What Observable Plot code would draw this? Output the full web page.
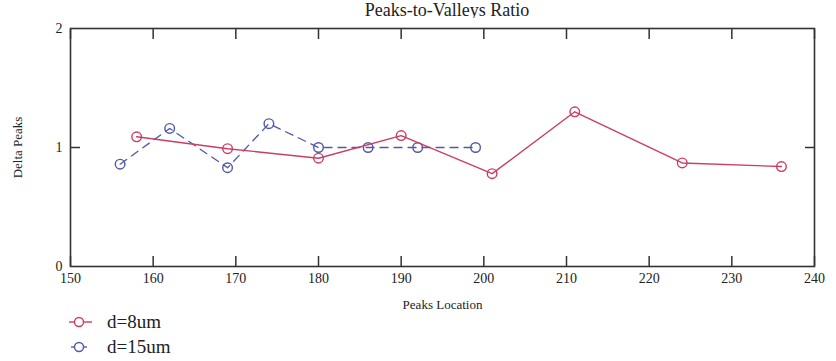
<!DOCTYPE html>
<html>
<head>
<meta charset="utf-8">
<script src="https://cdn.jsdelivr.net/npm/d3@7"></script>
<script src="https://cdn.jsdelivr.net/npm/@observablehq/plot@0.6"></script>
<style>
  body { margin: 0; background: #fff; width: 836px; height: 361px; position: relative; overflow: hidden;
         font-family: "Liberation Serif", "Times New Roman", "DejaVu Serif", serif; color: #222; }
  #title { position: absolute; top: 0px; left: 247px; width: 400px; text-align: center; font-size: 18px; }
  #chart { position: absolute; top: 18px; left: 0; }
  #legend { position: absolute; top: 309px; left: 68px; font-size: 19px; }
  .row { display: flex; align-items: center; height: 25px; }
  .row svg { margin-right: 5px; }
</style>
</head>
<body>
<div id="title">Peaks-to-Valleys Ratio</div>
<div id="chart"></div>
<div id="legend"></div>
<script>
// Peak locations and delta-peak ratios for the two widths
const locD8 = [158, 169, 180, 190, 201, 211, 224, 236];
const ratioD8 = [1.09, 0.99, 0.91, 1.10, 0.78, 1.30, 0.87, 0.84];
const locD15 = [156, 162, 169, 174, 180, 186, 192, 199];
const ratioD15 = [0.86, 1.16, 0.83, 1.20, 1.00, 1.00, 1.00, 1.00];

const xTicks = [150, 160, 170, 180, 190, 200, 210, 220, 230, 240];
const yTicks = [0, 1, 2];
const yInnerTicks = [1];

const seriesNames = ["d=8um", "d=15um"];
const red = "#cc3d63";
const blue = "#5058a8";

const d8 = locD8.map((x, i) => ({x, y: ratioD8[i]}));
const d15 = locD15.map((x, i) => ({x, y: ratioD15[i]}));

const serif = "'Liberation Serif', 'Times New Roman', 'DejaVu Serif', serif";

const chart = Plot.plot({
  width: 836,
  height: 297,
  marginLeft: 70,
  marginRight: 22,
  marginTop: 10,
  marginBottom: 49,
  style: {fontFamily: serif, fontSize: "14px", color: "#222", background: "white"},
  x: {domain: [150, 240]},
  y: {domain: [0, 2]},
  marks: [
    Plot.frame({stroke: "#333", strokeWidth: 1.6}),
    // inward tick marks along all four sides
    Plot.axisX({anchor: "bottom", ticks: xTicks, tickSize: 10, dy: -10, tickFormat: () => "", label: null, stroke: "#333", strokeWidth: 1.5}),
    Plot.axisX({anchor: "top", ticks: xTicks, tickSize: 10, dy: 10, tickFormat: () => "", label: null, stroke: "#333", strokeWidth: 1.5}),
    Plot.axisY({anchor: "left", ticks: yInnerTicks, tickSize: 10, dx: 10, tickFormat: () => "", label: null, stroke: "#333", strokeWidth: 1.5}),
    Plot.axisY({anchor: "right", ticks: yInnerTicks, tickSize: 10, dx: -10, tickFormat: () => "", label: null, stroke: "#333", strokeWidth: 1.5}),
    // tick labels and axis titles
    Plot.axisX({anchor: "bottom", ticks: xTicks, tickSize: 0, tickPadding: 7, fontSize: 14, tickFormat: d3.format("d"),
      label: "Peaks Location", labelAnchor: "center", labelArrow: "none", labelOffset: 42}),
    Plot.axisY({anchor: "left", ticks: yTicks, tickSize: 0, tickPadding: 8, fontSize: 14, tickFormat: d3.format("d"),
      label: "Delta Peaks", labelAnchor: "center", labelArrow: "none", labelOffset: 58}),
    // d=15um: dashed blue
    Plot.line(d15, {x: "x", y: "y", stroke: blue, strokeWidth: 1.3, strokeDasharray: "8,6"}),
    Plot.dot(d15, {x: "x", y: "y", r: 4.8, stroke: blue, strokeWidth: 1.4, fill: "none"}),
    // d=8um: solid red
    Plot.line(d8, {x: "x", y: "y", stroke: red, strokeWidth: 1.4}),
    Plot.dot(d8, {x: "x", y: "y", r: 4.8, stroke: red, strokeWidth: 1.4, fill: "none"})
  ]
});
chart.querySelectorAll("[aria-label='x-axis label'] text, [aria-label='y-axis label'] text").forEach(t => t.setAttribute("font-size", 13));
document.getElementById("chart").append(chart);

// legend
const legend = document.getElementById("legend");
const swatches = [
  {name: seriesNames[0], color: red, x1: 1, x2: 24},
  {name: seriesNames[1], color: blue, x1: 3, x2: 19}
];
swatches.forEach(s => {
  const row = document.createElement("div");
  row.className = "row";
  const sw = d3.create("svg").attr("width", 34).attr("height", 14);
  sw.append("line").attr("x1", s.x1).attr("x2", s.x2).attr("y1", 7).attr("y2", 7)
    .attr("stroke", s.color).attr("stroke-width", 1.4);
  sw.append("circle").attr("cx", 11).attr("cy", 7).attr("r", 4.5)
    .attr("stroke", s.color).attr("stroke-width", 1.4).attr("fill", "white");
  row.append(sw.node());
  const label = document.createElement("span");
  label.textContent = s.name;
  row.append(label);
  legend.append(row);
});
</script>
</body>
</html>
